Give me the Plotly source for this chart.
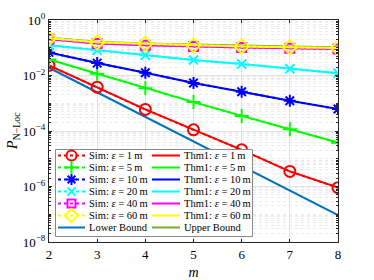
import plotly.graph_objects as go

# ---------------- data ----------------
m = [2, 3, 4, 5, 6, 7, 8]

eps_labels = ["1", "5", "10", "20", "40", "60"]

y_tick_vals = [1, 1e-2, 1e-4, 1e-6, 1e-8]
y_tick_text = ["10<sup>0</sup>", "10<sup>−2</sup>", "10<sup>−4</sup>",
               "10<sup>−6</sup>", "10<sup>−8</sup>"]

thm_eps1 = [2.3e-2, 3.8e-3, 6.0e-4, 1.12e-4, 2.1e-5, 3.5e-6, 9.1e-7]
thm_eps5 = [3.8e-2, 1.15e-2, 3.5e-3, 1.1e-3, 3.5e-4, 1.15e-4, 3.8e-5]
thm_eps10 = [6.8e-2, 2.8e-2, 1.26e-2, 5.4e-3, 2.6e-3, 1.23e-3, 6.2e-4]
thm_eps20 = [0.123, 0.081, 0.054, 0.036, 0.026, 0.0174, 0.012]
thm_eps40 = [0.204, 0.142, 0.123, 0.110, 0.102, 0.096, 0.090]
thm_eps60 = [0.219, 0.158, 0.138, 0.123, 0.112, 0.105, 0.098]

sim_eps1 = [2.3e-2, 3.8e-3, 6.0e-4, 1.1e-4, 2.1e-5, 3.5e-6, 9.1e-7]
sim_eps5 = [3.8e-2, 1.15e-2, 3.5e-3, 1.1e-3, 3.5e-4, 1.15e-4, 3.8e-5]
sim_eps10 = [6.8e-2, 2.8e-2, 1.26e-2, 5.4e-3, 2.6e-3, 1.23e-3, 6.2e-4]
sim_eps20 = [0.123, 0.081, 0.054, 0.036, 0.026, 0.0174, 0.012]
sim_eps40 = [0.204, 0.142, 0.123, 0.110, 0.102, 0.096, 0.090]
sim_eps60 = [0.219, 0.158, 0.138, 0.123, 0.112, 0.105, 0.098]

lower_bound = [1.9e-2, 2.5e-3, 3.2e-4, 4.3e-5, 5.5e-6, 7.2e-7, 9.3e-8]
upper_bound = [0.229, 0.165, 0.143, 0.129, 0.119, 0.111, 0.104]

# ---------------- styles ----------------
colors = ["#FF0000", "#00FF00", "#0000FF", "#00FFFF", "#FF00FF", "#FFFF00"]
symbols = ["circle-open", "cross-thin-open", "asterisk-open", "x-thin-open",
           "square-open", "diamond-open"]
msizes = [11, 10, 10, 9, 9, 11]
lb_color = "#0072BD"
ub_color = "#77AC30"
FONT = "Liberation Serif, Times New Roman, DejaVu Serif, serif"

thm = [thm_eps1, thm_eps5, thm_eps10, thm_eps20, thm_eps40, thm_eps60]
sim = [sim_eps1, sim_eps5, sim_eps10, sim_eps20, sim_eps40, sim_eps60]

fig = go.Figure()

fig.add_trace(go.Scatter(x=m, y=lower_bound, mode="lines",
                         line=dict(color=lb_color, width=2), showlegend=False))
fig.add_trace(go.Scatter(x=m, y=upper_bound, mode="lines",
                         line=dict(color=ub_color, width=2), showlegend=False))
for i in range(6):
    fig.add_trace(go.Scatter(x=m, y=sim[i], mode="lines+markers",
                             line=dict(color=colors[i], width=2, dash="dot"),
                             marker=dict(symbol=symbols[i], size=msizes[i],
                                         color=colors[i],
                                         line=dict(color=colors[i], width=2)),
                             showlegend=False))
    fig.add_trace(go.Scatter(x=m, y=thm[i], mode="lines",
                             line=dict(color=colors[i], width=2),
                             showlegend=False))

# ---------------- custom legend (helper pixel axes) ----------------
L, R, T, B = 49, 338, 20, 242
box_x = [55.5, 252.5, 252.5, 55.5, 55.5]
box_y = [149.5, 149.5, 236.5, 236.5, 149.5]
fig.add_trace(go.Scatter(x=box_x, y=box_y, mode="lines", fill="toself",
                         fillcolor="white", line=dict(color="#8a8a8a", width=1),
                         xaxis="x2", yaxis="y2", showlegend=False,
                         hoverinfo="skip"))

row_y0, row_dy = 155.5, 12
c1_line = (58, 85)
c2_line = (152, 180)
annotations = []
for i in range(7):
    yy = row_y0 + row_dy * i
    if i < 6:
        col = colors[i]
        fig.add_trace(go.Scatter(x=list(c1_line), y=[yy, yy], mode="lines",
                                 line=dict(color=col, width=2, dash="dot"),
                                 xaxis="x2", yaxis="y2", showlegend=False,
                                 hoverinfo="skip"))
        fig.add_trace(go.Scatter(x=[(c1_line[0] + c1_line[1]) / 2], y=[yy],
                                 mode="markers",
                                 marker=dict(symbol=symbols[i], size=msizes[i] - 1,
                                             color=col,
                                             line=dict(color=col, width=2)),
                                 xaxis="x2", yaxis="y2", showlegend=False,
                                 hoverinfo="skip"))
        fig.add_trace(go.Scatter(x=list(c2_line), y=[yy, yy], mode="lines",
                                 line=dict(color=col, width=2),
                                 xaxis="x2", yaxis="y2", showlegend=False,
                                 hoverinfo="skip"))
        t1 = f"Sim: <i>ε</i> = {eps_labels[i]}\u2009m"
        t2 = f"Thm1: <i>ε</i> = {eps_labels[i]}\u2009m"
    else:
        fig.add_trace(go.Scatter(x=list(c1_line), y=[yy, yy], mode="lines",
                                 line=dict(color=lb_color, width=2),
                                 xaxis="x2", yaxis="y2", showlegend=False,
                                 hoverinfo="skip"))
        fig.add_trace(go.Scatter(x=list(c2_line), y=[yy, yy], mode="lines",
                                 line=dict(color=ub_color, width=2),
                                 xaxis="x2", yaxis="y2", showlegend=False,
                                 hoverinfo="skip"))
        t1 = "Lower Bound"
        t2 = "Upper Bound"
    annotations.append(dict(x=87, y=yy, xref="x2", yref="y2", text=t1,
                            showarrow=False, xanchor="left", yanchor="middle",
                            font=dict(family=FONT, size=10.5, color="black")))
    annotations.append(dict(x=182, y=yy, xref="x2", yref="y2", text=t2,
                            showarrow=False, xanchor="left", yanchor="middle",
                            font=dict(family=FONT, size=10.5, color="black")))

annotations.append(dict(x=-0.125, y=0.5, xref="paper", yref="paper",
                        text="<i>P</i><sub>N−Loc</sub>", textangle=-90,
                        showarrow=False, xanchor="center", yanchor="middle",
                        font=dict(family=FONT, size=14, color="black")))

axis_col = "#262626"
fig.update_layout(
    width=374, height=280,
    margin=dict(l=L, r=374 - R, t=T, b=280 - B, autoexpand=False),
    paper_bgcolor="white", plot_bgcolor="white",
    font=dict(family=FONT, size=12, color=axis_col),
    showlegend=False,
    annotations=annotations,
    xaxis=dict(range=[2, 8], dtick=1, tick0=2, showgrid=True, automargin=False,
               gridcolor="#e2e2e2", gridwidth=1,
               showline=True, linecolor=axis_col, linewidth=1, mirror="allticks",
               ticks="inside", ticklen=3, tickcolor=axis_col,
               zeroline=False,
               tickfont=dict(family=FONT, size=13, color="black"),
               title=dict(text="<i>m</i>", standoff=6,
                          font=dict(family=FONT, size=14, color="black"))),
    yaxis=dict(type="log", range=[-8, 0], tickmode="array", automargin=False,
               tickvals=y_tick_vals, ticktext=y_tick_text, showgrid=True,
               gridcolor="#e2e2e2", gridwidth=1,
               showline=True, linecolor=axis_col, linewidth=1, mirror="allticks",
               ticks="inside", ticklen=3, tickcolor=axis_col, zeroline=False,
               tickfont=dict(family=FONT, size=13, color="black"),
               minor=dict(tickmode="linear", dtick="D1", ticks="inside", ticklen=2,
                          tickcolor=axis_col, showgrid=True,
                          gridcolor="#ececec", griddash="dot", gridwidth=1)),
    xaxis2=dict(overlaying="x", range=[L, R], visible=False, fixedrange=True),
    yaxis2=dict(overlaying="y", range=[B, T], visible=False, fixedrange=True),
)

fig.write_html("out.html",
               config={"displayModeBar": False},
               post_script="document.body.style.margin='0';"
                           "document.body.style.padding='0';")
